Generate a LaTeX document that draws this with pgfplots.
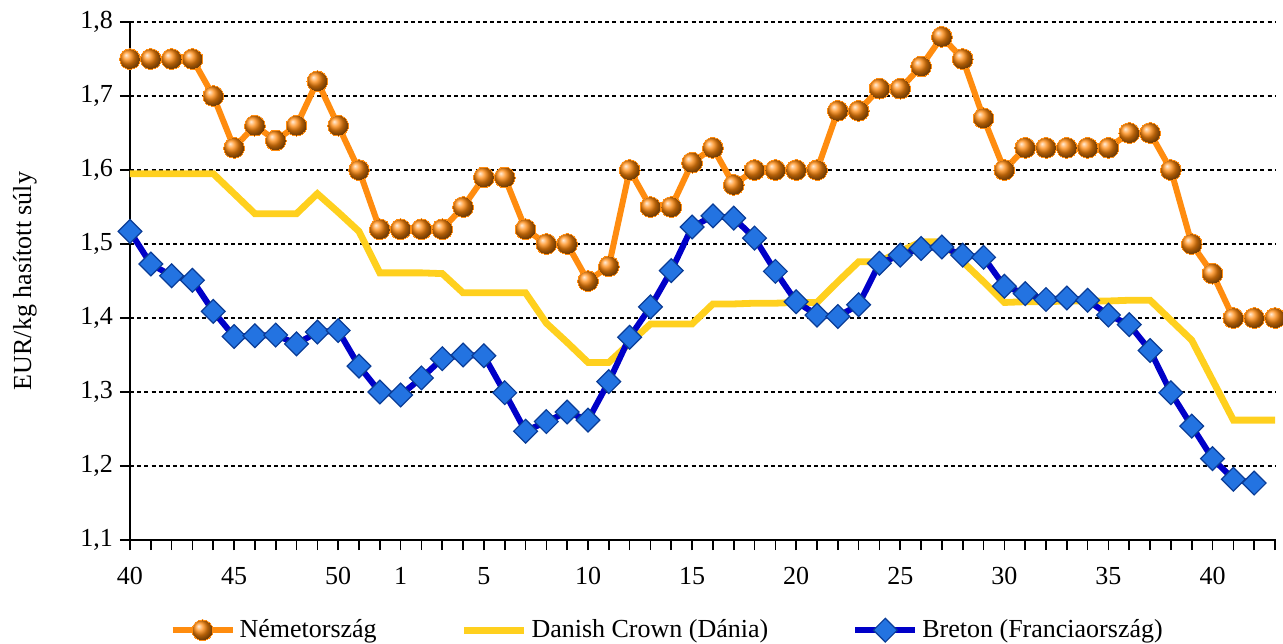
\documentclass[border=0pt]{standalone}
\usepackage{fontspec}
\setmainfont{Liberation Serif}
\usepackage{pgfplots}
\usepackage{pgfplotstable}
\pgfplotsset{compat=1.18}

\definecolor{deline}{RGB}{255,140,15}
\definecolor{deball}{RGB}{255,135,10}
\definecolor{dkline}{RGB}{255,208,30}
\definecolor{frline}{RGB}{0,0,200}
\definecolor{frfill}{RGB}{35,115,225}
\definecolor{frdraw}{RGB}{10,60,150}

% i: 0-12 = weeks 40-52, 13-55 = weeks 1-43
\pgfplotstableread{
i  de    dk     fr
0  1.75  1.595  1.517
1  1.75  1.595  1.473
2  1.75  1.595  1.457
3  1.75  1.595  1.451
4  1.70  1.595  1.409
5  1.63  1.568  1.375
6  1.66  1.541  1.376
7  1.64  1.541  1.377
8  1.66  1.541  1.365
9  1.72  1.568  1.381
10 1.66  1.543  1.383
11 1.60  1.517  1.335
12 1.52  1.461  1.300
13 1.52  1.461  1.296
14 1.52  1.461  1.319
15 1.52  1.460  1.345
16 1.55  1.434  1.350
17 1.59  1.434  1.349
18 1.59  1.434  1.299
19 1.52  1.434  1.247
20 1.50  1.393  1.260
21 1.50  1.367  1.273
22 1.45  1.340  1.262
23 1.47  1.340  1.314
24 1.60  1.366  1.374
25 1.55  1.392  1.415
26 1.55  1.392  1.464
27 1.61  1.392  1.523
28 1.63  1.419  1.538
29 1.58  1.419  1.535
30 1.60  1.420  1.508
31 1.60  1.420  1.463
32 1.60  1.421  1.422
33 1.60  1.421  1.404
34 1.68  1.449  1.402
35 1.68  1.476  1.418
36 1.71  1.476  1.474
37 1.71  1.490  1.485
38 1.74  1.503  1.494
39 1.78  1.503  1.496
40 1.75  1.476  1.485
41 1.67  1.449  1.482
42 1.60  1.421  1.443
43 1.63  1.422  1.433
44 1.63  1.422  1.425
45 1.63  1.423  1.427
46 1.63  1.423  1.424
47 1.63  1.423  1.404
48 1.65  1.424  1.391
49 1.65  1.424  1.356
50 1.60  1.397  1.299
51 1.50  1.370  1.254
52 1.46  1.316  1.210
53 1.40  1.262  1.182
54 1.40  1.262  1.177
55 1.40  1.262  nan
}\prices

\begin{document}
\begin{tikzpicture}
\begin{axis}[
  scale only axis,
  width=572.5pt, height=259pt,
  font=\fontsize{13}{15}\selectfont,
  xmin=0, xmax=55, ymin=1.1, ymax=1.8,
  clip=false,
  axis x line=bottom, axis y line=left,
  axis line style={-, black, line width=1pt},
  xtick={0,5,10,13,17,22,27,32,37,42,47,52},
  xticklabels={40,45,50,1,5,10,15,20,25,30,35,40},
  xticklabel style={yshift=-5pt},
  minor xtick={0,...,55},
  ytick={1.1,1.2,...,1.8},
  yticklabel={\pgfmathprintnumber[fixed,fixed zerofill,precision=1,use comma,assume math mode=true]{\tick}},
  tick align=outside,
  major tick length=5pt, minor tick length=5pt,
  tick style={black, line width=0.8pt},
  ymajorgrids,
  grid style={black, line width=0.6pt, dash pattern=on 2pt off 1.6pt},
  ylabel={EUR/kg hasított súly},
  ylabel style={at={(axis description cs:-0.0917,0.5)}, anchor=center},
  legend columns=3,
  legend style={draw=none, fill=none, at={(0.47,-0.174)}, anchor=center,
    font=\fontsize{13}{15}\selectfont,
    /tikz/every even column/.append style={column sep=40pt}},
  legend image code/.code={\draw[mark repeat=2,mark phase=2,#1] plot coordinates {(0pt,0pt) (15pt,0pt) (30pt,0pt)};},
]
\addplot[deline, line width=3pt, mark=ball, mark size=5.2pt,
  mark options={ball color=deball, line width=0pt}]
  table[x=i, y=de] {\prices};
\addlegendentry{Németország}
\addplot[dkline, line width=3.4pt, no markers] table[x=i, y=dk] {\prices};
\addlegendentry{Danish Crown (Dánia)}
\addplot[frline, line width=3pt, mark=square*, mark size=4.2pt,
  mark options={rotate=45, fill=frfill, draw=frdraw, line width=0.6pt}]
  table[x=i, y=fr] {\prices};
\addlegendentry{Breton (Franciaország)}
\end{axis}
\pgfresetboundingbox
\path[use as bounding box] (-65pt,-51.5pt) rectangle (576.5pt,270pt);
\end{tikzpicture}
\end{document}
